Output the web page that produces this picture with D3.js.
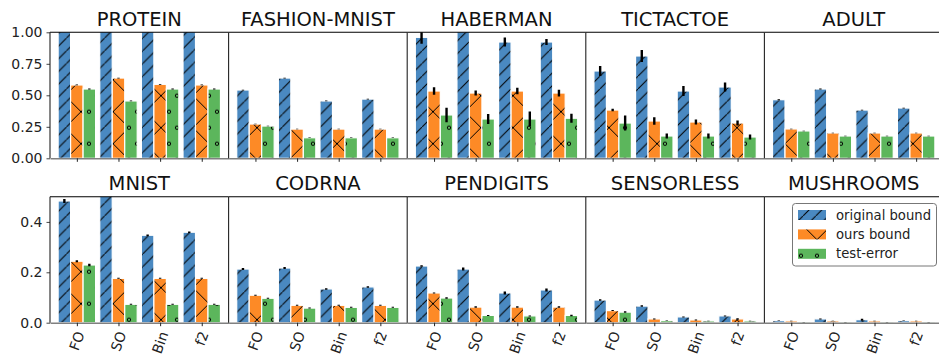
<!DOCTYPE html>
<html>
<head>
<meta charset="utf-8">
<script src="https://cdn.jsdelivr.net/npm/d3@7"></script>
<style>
    body { margin: 0; background: #fff; }
    svg { display: block; font-family: "DejaVu Sans", sans-serif; }
</style>
</head>
<body>
<svg id="vis" width="939" height="358"></svg>
<script>
/**
 * Data
 */
var datasets = ["PROTEIN", "FASHION-MNIST", "HABERMAN", "TICTACTOE", "ADULT",
                "MNIST", "CODRNA", "PENDIGITS", "SENSORLESS", "MUSHROOMS"];
var methods = ["FO", "SO", "Bin", "f2"];
var seriesNames = ["original bound", "ours bound", "test-error"];

var topTicks = [0, 0.25, 0.5, 0.75, 1.0];
var topTickLabels = ["0.00", "0.25", "0.50", "0.75", "1.00"];
var bottomTicks = [0, 0.2, 0.4];
var bottomTickLabels = ["0.0", "0.2", "0.4"];

var originalBound = [
    [1.05, 1.05, 1.05, 1.05],
    [0.542, 0.637, 0.455, 0.470],
    [0.960, 1.020, 0.923, 0.923],
    [0.693, 0.812, 0.534, 0.566],
    [0.465, 0.550, 0.383, 0.399],
    [0.483, 0.510, 0.347, 0.359],
    [0.213, 0.217, 0.134, 0.142],
    [0.225, 0.213, 0.118, 0.130],
    [0.090, 0.066, 0.023, 0.027],
    [0.008, 0.015, 0.012, 0.008]
];
var originalErr = [
    [0, 0, 0, 0],
    [0.003, 0.003, 0.003, 0.003],
    [0.050, 0, 0.036, 0.024],
    [0.040, 0.048, 0.040, 0.035],
    [0.004, 0.004, 0.003, 0.003],
    [0.008, 0.004, 0.003, 0.003],
    [0.004, 0.004, 0.003, 0.003],
    [0.003, 0.006, 0.006, 0.006],
    [0.003, 0.003, 0.002, 0.002],
    [0.001, 0.002, 0.004, 0.001]
];
var oursBound = [
    [0.582, 0.637, 0.587, 0.582],
    [0.272, 0.232, 0.232, 0.232],
    [0.534, 0.518, 0.534, 0.518],
    [0.383, 0.296, 0.288, 0.280],
    [0.233, 0.201, 0.201, 0.201],
    [0.244, 0.176, 0.176, 0.176],
    [0.109, 0.069, 0.069, 0.069],
    [0.118, 0.062, 0.062, 0.062],
    [0.048, 0.015, 0.011, 0.015],
    [0.007, 0.007, 0.007, 0.007]
];
var oursErr = [
    [0.003, 0.003, 0.003, 0.003],
    [0.002, 0.002, 0.002, 0.002],
    [0.030, 0.020, 0.025, 0.027],
    [0.010, 0.030, 0.020, 0.020],
    [0.002, 0.002, 0.002, 0.002],
    [0.004, 0.002, 0.002, 0.002],
    [0.002, 0.002, 0.002, 0.002],
    [0.002, 0.003, 0.003, 0.003],
    [0.002, 0.002, 0.002, 0.003],
    [0.001, 0.001, 0.001, 0.001]
];
var testError = [
    [0.550, 0.455, 0.550, 0.550],
    [0.256, 0.163, 0.163, 0.163],
    [0.344, 0.312, 0.312, 0.318],
    [0.280, 0.177, 0.177, 0.169],
    [0.217, 0.177, 0.177, 0.177],
    [0.229, 0.073, 0.073, 0.073],
    [0.097, 0.058, 0.061, 0.061],
    [0.098, 0.029, 0.027, 0.029],
    [0.042, 0.008, 0.007, 0.007],
    [0.002, 0.002, 0.002, 0.002]
];
var testErr = [
    [0.003, 0.003, 0.003, 0.003],
    [0.002, 0.002, 0.002, 0.002],
    [0.057, 0.040, 0.060, 0.035],
    [0.060, 0.020, 0.020, 0.020],
    [0.002, 0.002, 0.002, 0.002],
    [0.005, 0.002, 0.002, 0.002],
    [0.002, 0.002, 0.002, 0.002],
    [0.003, 0.002, 0.002, 0.003],
    [0.003, 0.001, 0.001, 0.001],
    [0.001, 0.001, 0.001, 0.001]
];

/**
 * Layout / styles
 */
const PLOT_LEFT = 50;
const PANEL_W = 178.6;
const BAR_W = 0.3;
const ROWS = [
    { top: 32.3, bottom: 158.3, max: 1.0, ticks: topTicks, labels: topTickLabels, titleY: 25.5 },
    { top: 196.7, bottom: 322.7, max: 0.5, ticks: bottomTicks, labels: bottomTickLabels, titleY: 189.5 }
];
var fills = ["#4a89c1", "#fd8a26", "#5cb65c"];
var hatchIds = ["hatchSlash", "hatchX", "hatchO"];

var _svg;

window.onload = function(){
    setup();
};

function setup(){
    _svg = d3.select("#vis");
    makePatterns();
    for (var i = 0; i < datasets.length; i++){
        drawPanel(i);
    }
    drawLegend();
}

// hatch patterns, aligned to page coords like matplotlib does
function makePatterns(){
    var defs = _svg.append("defs");

    var p1 = defs.append("pattern").attr("id", hatchIds[0])
        .attr("patternUnits", "userSpaceOnUse")
        .attr("x", 3).attr("y", 0).attr("width", 12.7).attr("height", 12.7);
    p1.append("rect").attr("width", 12.7).attr("height", 12.7).attr("fill", fills[0]);
    p1.append("path").attr("d", "M-1,13.7L13.7,-1")
        .attr("stroke", "#000").attr("stroke-width", 1);

    var p2 = defs.append("pattern").attr("id", hatchIds[1])
        .attr("patternUnits", "userSpaceOnUse")
        .attr("x", 17).attr("y", 15.7).attr("width", 32).attr("height", 32);
    p2.append("rect").attr("width", 32).attr("height", 32).attr("fill", fills[1]);
    p2.append("path").attr("d", "M-1,33L33,-1M-1,-1L33,33")
        .attr("stroke", "#000").attr("stroke-width", 1);

    var p3 = defs.append("pattern").attr("id", hatchIds[2])
        .attr("patternUnits", "userSpaceOnUse")
        .attr("x", 9).attr("y", 15.7).attr("width", 16).attr("height", 32);
    p3.append("rect").attr("width", 16).attr("height", 32).attr("fill", fills[2]);
    [[0, 0], [16, 0], [0, 32], [16, 32], [8, 16]].forEach(function(c){
        p3.append("circle").attr("cx", c[0]).attr("cy", c[1]).attr("r", 1.7)
            .attr("fill", "none").attr("stroke", "#000").attr("stroke-width", 1);
    });
}

function drawPanel(i){
    var row = ROWS[Math.floor(i / 5)];
    var col = i % 5;
    var x0 = PLOT_LEFT + col * PANEL_W;

    var xScale = d3.scaleLinear().domain([-0.645, 3.645]).range([x0, x0 + PANEL_W]);
    var yScale = d3.scaleLinear().domain([0, row.max]).range([row.bottom, row.top]);

    var g = _svg.append("g");

    g.append("clipPath").attr("id", "clip" + i)
        .append("rect")
        .attr("x", x0).attr("y", row.top)
        .attr("width", PANEL_W).attr("height", row.bottom - row.top);

    //flatten the three series into one list of bars
    var bars = [];
    var vals = [originalBound[i], oursBound[i], testError[i]];
    var errs = [originalErr[i], oursErr[i], testErr[i]];
    methods.forEach(function(m, j){
        for (var k = 0; k < 3; k++){
            bars.push({ pos: j + (k - 1) * BAR_W, value: vals[k][j], err: errs[k][j], series: k });
        }
    });

    var plot = g.append("g").attr("clip-path", "url(#clip" + i + ")");

    plot.selectAll("rect.bar")
        .data(bars)
        .enter()
        .append("rect")
        .attr("class", "bar")
        .attr("x", function(d){ return xScale(d.pos - BAR_W / 2); })
        .attr("width", xScale(BAR_W) - xScale(0))
        .attr("y", function(d){ return yScale(d.value); })
        .attr("height", function(d){ return yScale(0) - yScale(d.value); })
        .attr("fill", function(d){ return "url(#" + hatchIds[d.series] + ")"; })
        .attr("stroke", "#fff")
        .attr("stroke-width", 1.2);

    //error bars
    plot.selectAll("line.err")
        .data(bars.filter(function(d){ return d.err > 0; }))
        .enter()
        .append("line")
        .attr("class", "err")
        .attr("x1", function(d){ return xScale(d.pos); })
        .attr("x2", function(d){ return xScale(d.pos); })
        .attr("y1", function(d){ return yScale(d.value - d.err); })
        .attr("y2", function(d){ return yScale(d.value + d.err); })
        .attr("stroke", "#000")
        .attr("stroke-width", 2.4);

    //x axis (bottom spine)
    var xAxis = d3.axisBottom(xScale).tickValues([0, 1, 2, 3])
        .tickSize(3.5).tickSizeOuter(0).tickFormat("");
    var xg = g.append("g").attr("transform", `translate(0, ${row.bottom})`).call(xAxis);
    xg.select(".domain").attr("stroke", "#808080").attr("stroke-width", 1.6);
    xg.selectAll(".tick line").attr("stroke", "#222");

    //rotated method labels on the lower row
    if (row === ROWS[1]){
        var a = 70 * Math.PI / 180;
        methods.forEach(function(m, j){
            var t = g.append("text")
                .attr("text-anchor", "middle")
                .attr("dominant-baseline", "central")
                .attr("font-size", 14)
                .attr("fill", "#222")
                .text(m);
            var w = t.node().getComputedTextLength();
            var h = w * Math.sin(a) + 13 * Math.cos(a);
            t.attr("transform", `translate(${xScale(j)}, ${row.bottom + 7 + h / 2}) rotate(-70)`);
        });
    }

    //y axis on first column only
    if (col === 0){
        var yAxis = d3.axisLeft(yScale).tickValues(row.ticks)
            .tickSize(3.5).tickPadding(4)
            .tickFormat(function(d, n){ return row.labels[n]; });
        var yg = g.append("g").attr("transform", `translate(${x0}, 0)`).call(yAxis);
        yg.select(".domain").remove();
        yg.selectAll(".tick line").attr("stroke", "#444");
        yg.selectAll(".tick text").attr("font-size", 14).attr("fill", "#222")
            .attr("font-family", "DejaVu Sans");
    }

    //top and left frame lines
    g.append("line")
        .attr("x1", x0).attr("x2", x0 + PANEL_W)
        .attr("y1", row.top).attr("y2", row.top)
        .attr("stroke", "#000").attr("stroke-width", 1.1);
    g.append("line")
        .attr("x1", x0).attr("x2", x0)
        .attr("y1", row.top).attr("y2", row.bottom)
        .attr("stroke", "#222").attr("stroke-width", 1.1);

    //panel title
    g.append("text")
        .attr("x", x0 + PANEL_W / 2)
        .attr("y", row.titleY)
        .attr("text-anchor", "middle")
        .attr("font-size", 19.5)
        .attr("fill", "#111")
        .text(datasets[i]);
}

function drawLegend(){
    var lg = _svg.append("g");
    lg.append("rect")
        .attr("x", 792.5).attr("y", 203.5)
        .attr("width", 144).attr("height", 62.5)
        .attr("rx", 3)
        .attr("fill", "#fff").attr("fill-opacity", 0.85)
        .attr("stroke", "#777").attr("stroke-width", 1);

    seriesNames.forEach(function(name, k){
        var cy = 215 + k * 19.4;
        lg.append("rect")
            .attr("x", 798).attr("y", cy - 5)
            .attr("width", 28).attr("height", 10)
            .attr("fill", "url(#" + hatchIds[k] + ")");
        lg.append("text")
            .attr("x", 836).attr("y", cy)
            .attr("dominant-baseline", "central")
            .attr("font-size", 13.2)
            .attr("fill", "#222")
            .text(name);
    });
}
</script>
</body>
</html>
